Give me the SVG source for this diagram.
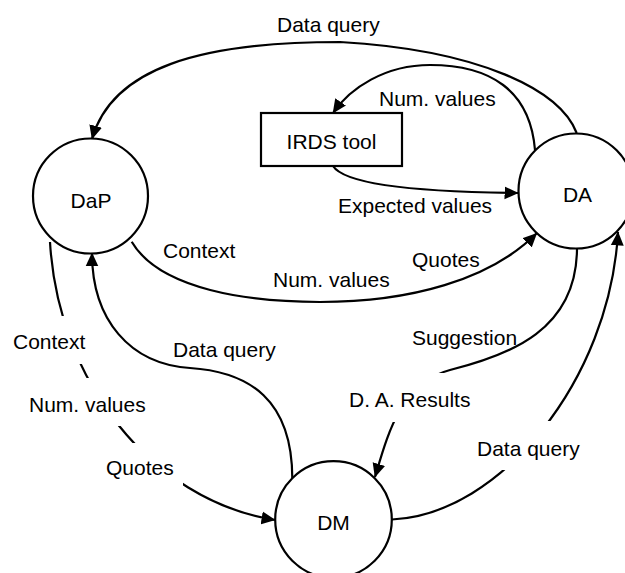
<svg xmlns="http://www.w3.org/2000/svg" width="625" height="573" viewBox="0 0 625 573">
<style>
  .node { fill: #fff; stroke: #000; stroke-width: 2.2; }
  .conn { fill: none; stroke: #000; stroke-width: 2.2; }
  .lbl { font-family: "Liberation Sans", Arial, sans-serif; font-size: 21px; fill: #000; }
  .mid { text-anchor: middle; }
</style>
<defs>
  <marker id="arr" markerUnits="userSpaceOnUse" markerWidth="14" markerHeight="14" viewBox="0 0 13 12" refX="12.5" refY="6" orient="auto">
    <path d="M0,0 L13,6 L0,12 z" fill="#000"/>
  </marker>
  <mask id="gaps" maskUnits="userSpaceOnUse" x="0" y="0" width="625" height="573">
    <rect x="0" y="0" width="625" height="573" fill="#fff"/>
    <rect x="8" y="316" width="84" height="48" fill="#000"/>
    <rect x="25" y="378" width="125" height="48" fill="#000"/>
    <rect x="100" y="443" width="83" height="48" fill="#000"/>
    <rect x="340" y="373" width="140" height="49" fill="#000"/>
    <rect x="470" y="421" width="120" height="49" fill="#000"/>
  </mask>
</defs>
<rect width="625" height="573" fill="#fff"/>

<g id="connectors" mask="url(#gaps)">
  <path class="conn" d="M576.7,133 C 560,90 480,50 340,42 C 200,42 112,68 92,139" marker-end="url(#arr)"/>
  <path class="conn" d="M535,150 C 530,90 490,65 430,65 C 385,65 350,88 333,113" marker-end="url(#arr)"/>
  <path class="conn" d="M333,166 C 345,185 420,192 518,193" marker-end="url(#arr)"/>
  <path class="conn" d="M131.7,241.7 C 160,290 250,302 320,302 C 410,302 490,280 536.7,233.3" marker-end="url(#arr)"/>
  <path class="conn" d="M50,242 C 58,380 150,500 275,520" marker-end="url(#arr)"/>
  <path class="conn" d="M292.3,478 C 292,400 250,372 190,368 C 130,364 92,320 92,253" marker-end="url(#arr)"/>
  <path class="conn" d="M577,248 C 577,330 510,355 450,370 C 400,383 387,437 375,477" marker-end="url(#arr)"/>
  <path class="conn" d="M392,519.5 C 500,515 610,380 618,232" marker-end="url(#arr)"/>
</g>

<g id="DaP">
  <circle class="node" cx="90.5" cy="196" r="57.5"/>
  <text class="lbl mid" x="91" y="208">DaP</text>
</g>
<g id="DA">
  <circle class="node" cx="576" cy="191" r="57.5"/>
  <text class="lbl mid" x="577.5" y="202">DA</text>
</g>
<g id="DM">
  <circle class="node" cx="333.5" cy="519.5" r="58.3"/>
  <text class="lbl mid" x="333.5" y="530">DM</text>
</g>
<g id="IRDS">
  <rect class="node" x="261" y="113" width="141" height="53"/>
  <text class="lbl mid" x="331.5" y="149">IRDS tool</text>
</g>

<g id="labels">
  <text class="lbl" x="277" y="32">Data query</text>
  <text class="lbl" x="379" y="106">Num. values</text>
  <text class="lbl" x="338" y="213">Expected values</text>
  <text class="lbl" x="163" y="258">Context</text>
  <text class="lbl" x="273" y="287">Num. values</text>
  <text class="lbl" x="412" y="267">Quotes</text>
  <text class="lbl" x="13" y="349">Context</text>
  <text class="lbl" x="173" y="357">Data query</text>
  <text class="lbl" x="412" y="345">Suggestion</text>
  <text class="lbl" x="29" y="412">Num. values</text>
  <text class="lbl" x="349" y="407">D. A. Results</text>
  <text class="lbl" x="106" y="475">Quotes</text>
  <text class="lbl" x="477" y="456">Data query</text>
</g>
</svg>
